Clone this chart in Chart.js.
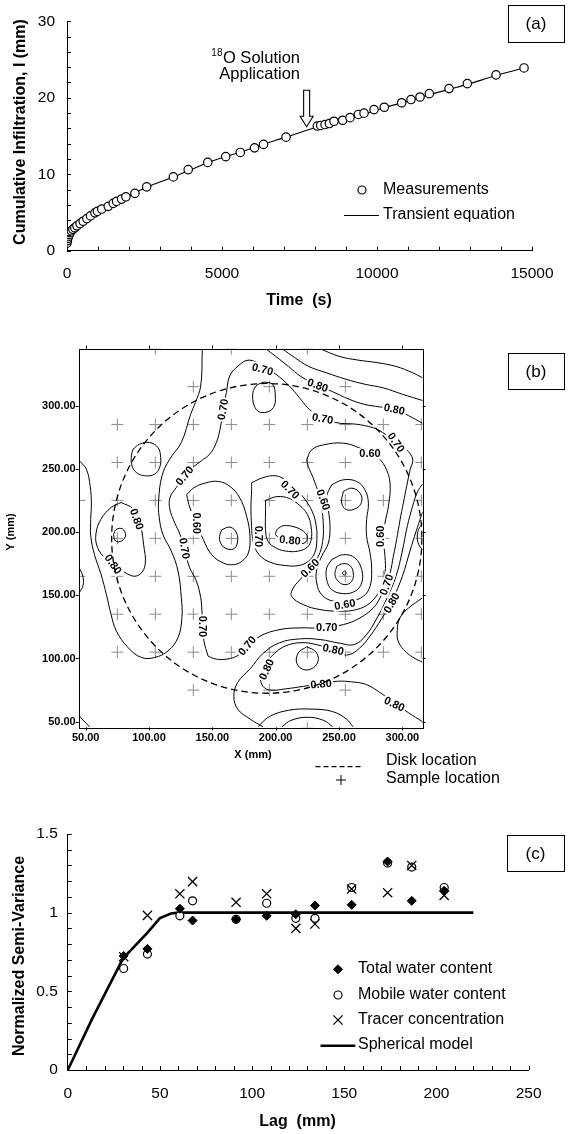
<!DOCTYPE html>
<html><head><meta charset="utf-8">
<script src="https://cdn.jsdelivr.net/npm/chart.js@4.4.1/dist/chart.umd.min.js"></script>
<style>
html,body{margin:0;padding:0;background:#fff;width:574px;height:1134px;overflow:hidden;}
canvas{position:absolute;left:0;}
</style></head><body>
<canvas id="ca" width="574" height="320" style="top:0px"></canvas>
<canvas id="cb" width="574" height="460" style="top:330px"></canvas>
<canvas id="cc" width="574" height="344" style="top:790px"></canvas>
<script>
const FONT = "'Liberation Sans', Arial, Helvetica, sans-serif";
Chart.defaults.font.family = FONT;
Chart.defaults.color = '#000';

// ---------- Panel (a) data ----------
const timeS = [0,10,25,45,70,100,140,190,250,320,420,520,640,760,900,980,1120,1330,1490,1600,1760,1900,2190,2570,3430,3910,4540,5120,5590,6050,6340,7065,8075,8183,8323,8462,8613,8893,9129,9398,9582,9904,10236,10796,11097,11388,11688,12323,12914,13840,14743];
const infilMm = [1.0,1.3,1.6,1.85,2.1,2.35,2.6,2.8,3.0,3.25,3.55,3.85,4.2,4.55,4.95,5.15,5.45,5.8,6.2,6.45,6.75,7.05,7.5,8.35,9.65,10.6,11.55,12.3,12.85,13.45,13.9,14.85,16.3,16.38,16.5,16.63,16.93,17.06,17.4,17.82,17.99,18.45,18.76,19.35,19.77,20.1,20.54,21.2,21.85,23.0,23.9];
const fitTimeS = [0,20,50,120,200,350,500,700,900,1100,1500,2000,2570,3400,4000,4540,5120,5600,6300,7065,7730,8300,8900,9500,10236,11000,11700,12323,12914,13840,14743];
const fitMm = [0.9,1.45,1.85,2.45,2.85,3.35,3.8,4.35,4.85,5.3,6.15,7.15,8.3,9.6,10.6,11.5,12.3,12.9,13.9,14.85,15.75,16.45,17.1,17.75,18.7,19.55,20.4,21.1,21.75,22.9,23.9];
const xTicksA = [0,1000,2000,3000,4000,5000,6000,7000,8000,9000,10000,11000,12000,13000,14000,15000];
const xLabelsA = [0,5000,10000,15000];
const yTicksA = [0,2,4,6,8,10,12,14,16,18,20,22,24,26,28,30];
const yLabelsA = [0,10,20,30];
const arrowTipA = [7730, 16.2];

// ---------- Panel (b) data ----------
const sampleRows = [
  [345,[105,165,225]],
  [315,[135,195,255]],
  [285,[75,105,135,165,195,225,255,285,315]],
  [255,[75,105,135,165,195,225,255,315]],
  [225,[45,75,105,135,165,195,225,255,285,315]],
  [195,[75,105,135,165,195,225,255,285,315]],
  [165,[45,75,105,135,165,195,225,255,285,315]],
  [135,[75,105,135,165,195,225,255,285,315]],
  [105,[75,105,135,165,195,225,255,285,315]],
  [75,[135,195,255]],
  [45,[225]]
];
const diskCenter = [193, 195];
const diskRadius = 122.5;
const xTicksB = [50,100,150,200,250,300];
const yTicksB = [50,100,150,200,250,300];

const cLeftPeak = [[72,198],[74,202],[79,202.5],[81.5,197.5],[78.5,193],[73.5,193],[72,198]];
const cLeft080 = [[78,223.4],[87.6,218.2],[93,206.3],[95.7,190.4],[97,174.6],[93,166.7],[86.3,165.4],[75.5,172],[66.1,178.6],[59.4,187.8],[58.1,198.4],[62.1,210.2],[70.2,219.5],[78,223.4]];
const cLeft075 = [[44.5,257],[50.5,249.7],[53.5,236.6],[54.5,223],[54,210],[54,197],[57,182],[62,167],[66.5,150],[70,135],[74.2,121.8],[83.4,108.7],[94,100.8],[104.5,100.8],[115,106],[122.9,116.6],[126,132.4],[125.5,148.2],[122.9,169.2],[117.6,185],[111,198],[108,212],[107.6,225],[110.3,244.5],[116.3,257.6],[125.5,270.8],[132.9,293.2],[136.6,302.4],[140.8,315.5],[142.1,345]];
const cLeftLoop = [[87.4,265.5],[92.6,269.5],[100.5,270.8],[107.1,266.8],[109.2,258.9],[108.4,251.1],[104.5,245.8],[96.6,244.5],[90,247.1],[86.6,252.4],[86.1,260.3],[87.4,265.5]];
const cLeftEdge = [[44.5,172],[47.5,166],[48,158],[44.5,151]];
const cCornerBL = [[44.5,55],[53,46]];
const cTopLoop = [[191,318.7],[197.6,316.8],[199.7,307.6],[198.2,298.4],[191,294.5],[184.5,297.1],[181.8,307.6],[184.5,315.5],[191,318.7]];
const cMain070 = [[146.6,102],[143.4,114],[141.8,137.6],[140.8,148.2],[137.4,161.3],[132.1,171.8],[128,186],[124.5,198],[120,208],[116.5,218],[116.5,227],[121.6,235.3],[128.2,243.2],[134.7,251.1],[141.3,256.3],[147.9,261.6],[153.2,270.8],[156.6,284],[158.4,297.1],[161.1,310.3],[163.7,323.4],[170.3,331.3],[179,336],[189.7,331.3],[200.3,324.7],[210.8,315.5],[218.7,306.3],[225.3,298.4],[231.8,293.2],[247.6,286.6],[263.4,285.3],[276.6,282.6],[284.5,278.7],[295,270.8],[302.9,265.5],[308.2,257.6],[306.1,249.2],[303.4,236.1],[300.8,222.9],[298.2,209.7],[295.5,194],[292.9,180.8],[290.3,167.6],[286.3,157.1],[282.4,147.9],[277.1,140],[266.6,132.1],[253.4,126.8],[235,124.2],[219.2,124.2],[203.4,122.9],[187.6,117.6],[177.1,108.4],[169.2,101.8],[158.7,99.2],[151,100],[146.6,102]];
const cTop080 = [[192,345],[200,339],[210,331],[220,323],[233,316],[245,311],[258,305],[270,301],[282,299],[294,297],[305,292],[316,286]];
const cTop085 = [[205,345],[215,338],[226,331],[240,326],[255,321],[270,317],[285,314],[300,309],[316,304]];
const cTop090 = [[235,345],[250,339],[265,336],[280,334],[295,331],[308,326],[316,322]];
const cLeftMin1 = [[157.4,201.8],[164,203.9],[169.2,199.2],[169.7,191.3],[166.6,186.6],[160,187.4],[156,192.6],[156,197.9],[157.4,201.8]];
const cLeftMin2 = [[129.7,229.5],[135,234.7],[144.2,238.7],[154.7,240],[163.9,236.1],[171.8,226.8],[177.1,212.4],[179.7,196.6],[178.4,183.4],[173.2,176.8],[166.6,174.2],[158.7,175.5],[149.5,182.1],[142.9,194],[137.6,207.1],[132.4,219],[129.7,229.5]];
const cCenter080 = [[201,202],[206,205],[215,204],[222,200.5],[225,196],[223,191.5],[217,191],[211,192.6],[204,195],[200,198],[201,202]];
const cCenter075 = [[192,225],[201,228],[211,226.5],[219,221],[225,214],[228,204],[228,194],[225,188],[218,185],[210,184.7],[201,187],[194,192.6],[192,202],[192,215],[192,225]];
const cCenter070 = [[181,239],[190,243],[200,244.5],[208,241],[216,234],[223,226],[229,216],[232,205],[232.5,194],[231,184],[226,177],[218,173.5],[208,173.5],[196,176],[187,182],[182.5,191.3],[181,204.5],[180.5,220],[181,233],[181,239]];
const cRightMinA = [[253.4,232.1],[260,234.7],[266.6,230.8],[267.9,224.2],[263.9,219],[256.1,217.6],[252.1,222.9],[253.4,232.1]];
const cRightMinB0 = [[254.2,169.2],[255.8,167.6],[254.2,166],[252.6,167.6],[254.2,169.2]];
const cRightMinB1 = [[248.2,172.9],[253.4,175],[258.7,173.4],[261.3,167.6],[260,161],[254.7,158.4],[249.5,161],[246.8,166.3],[248.2,172.9]];
const cRightMinB2 = [[244.2,178.2],[253.4,182.1],[262.6,179.5],[267.9,170.3],[267.9,159.7],[262.6,153.2],[253.4,151.3],[244.2,154.5],[240.3,162.4],[240.3,171.5],[244.2,178.2]];
const cRight055 = [[244.2,237.4],[253.4,241.3],[263.9,240],[270.5,233.4],[273.2,222.9],[271.8,209.7],[271.8,196.6],[274.5,183.4],[275.8,170.3],[274.5,157.1],[269.2,149.2],[258.7,145.3],[245.5,145.3],[236.3,150.5],[232.4,159.7],[232.4,170.3],[236.3,180.8],[241.6,191.3],[242.9,204.5],[241.6,217.6],[240.3,228.2],[244.2,237.4]];
const cRight060 = [[224.5,257.1],[228.4,265],[237.6,268.9],[253.4,270.3],[266.6,266.3],[279.7,259.7],[286.3,251.8],[290.3,238.7],[289,220.3],[286.3,207.1],[285,194],[286.3,180.8],[286.3,167.6],[282.4,154.5],[274.5,143.9],[263.9,138.7],[250.8,137.4],[235,138.7],[221.8,142.6],[212.6,149.2],[213.9,155.8],[220.5,163.7],[227.1,171.5],[233.7,180.8],[237.1,192.6],[237.6,205.8],[236.3,218.9],[233.7,230.8],[229.7,242.6],[225.8,251.8],[224.5,257.1]];
const cRight085 = [[316,148],[305,140],[298,132],[296,122],[297,113],[303,105],[310,100],[316,97]];
const cRightEdge = [[316,207],[312.8,202],[311.8,196],[313,190],[316,186]];
const cLowPeak = [[224.5,109.2],[231.1,105.8],[233.7,99.2],[229.7,92.6],[221.8,91.3],[216.6,96.6],[217.9,104.5],[224.5,109.2]];
const cLow080 = [[316,50],[305,57],[292,66],[281,74],[271,79.6],[260,81.5],[249,82],[236,80],[222,78],[208,76],[196,75],[190,78],[188,86],[192,95],[199,104],[208,110],[220,112.5],[232,111],[243,107.5],[250,104],[258,103],[266,108],[274,117],[284,132],[292,146],[300,165],[306,185],[311,201],[314,210],[316,216]];
const cLow075 = [[190,46],[180,52],[170,60],[167,70],[170,81],[180,92],[190,104],[203,112.4],[219,115.5],[235,115],[251,112],[262,111],[271,118],[280,132],[288,148],[295,165],[300,185],[304,205],[308,220],[312,232],[316,238]];
const cBotArc1 = [[205,46],[212,51],[225,53.5],[238,51],[245,46]];
const cBotArc2 = [[186,46],[195,54],[210,59],[228,60],[245,58],[256,52],[261,46]];

const contourLines = [cLeftPeak,cLeft080,cLeft075,cLeftLoop,cLeftEdge,cCornerBL,cTopLoop,cMain070,cTop080,cTop085,cTop090,
  cLeftMin1,cLeftMin2,cCenter080,cCenter075,cCenter070,cRightMinA,cRightMinB0,cRightMinB1,cRightMinB2,cRight055,cRight060,
  cRight085,cRightEdge,cLowPeak,cLow080,cLow075,cBotArc1,cBotArc2];

// [X, Y, angle(deg), text]
const contourLabels = [
  [90.3,210.2,70,'0.80'],[71.6,174.5,55,'0.80'],
  [158.4,297,-80,'0.70'],[128.2,244.5,-50,'0.70'],[128,187,80,'0.70'],[142.4,125.3,90,'0.70'],
  [177.5,110,-50,'0.70'],[240.3,124.2,0,'0.70'],[287.6,158.4,-70,'0.70'],[237.1,289.7,10,'0.70'],
  [295,270.8,55,'0.70'],[189.7,328.7,15,'0.70'],[233.2,316,20,'0.80'],[293.7,297.1,12,'0.80'],
  [137.5,207,90,'0.60'],[186.3,196.6,90,'0.70'],[211.3,233.4,45,'0.70'],[211.3,193.5,5,'0.80'],
  [237.6,225.5,70,'0.60'],[274.5,261.9,0,'0.60'],[282.4,196.6,-90,'0.60'],[227.1,171.5,-45,'0.60'],
  [254.7,142.6,-10,'0.60'],[291.6,144,-60,'0.80'],
  [245.5,107.1,12,'0.80'],[192.9,91.3,-65,'0.80'],[235.8,79.7,-5,'0.80'],[293.7,63.9,25,'0.80']
];

// ---------- Panel (c) data ----------
const lagMm = [30.3,43.2,60.8,67.7,91.3,107.9,123.7,134.1,154,173.5,186.6,204.2];
const totalWater = [0.725,0.77,1.025,0.95,0.958,0.98,0.99,1.045,1.05,1.325,1.075,1.14];
const mobileWater = [0.645,0.737,0.98,1.075,0.958,1.06,0.964,0.964,1.16,1.315,1.29,1.16];
const tracerConc = [0.72,0.983,1.12,1.197,1.066,1.12,0.90,0.928,1.15,1.127,1.30,1.11];
const modelLag = [0,13,30,43,50,56,60,220];
const modelVal = [0,0.32,0.71,0.87,0.965,0.995,1.0,1.0];
const xTicksC = [0,10,20,30,40,50,60,70,80,90,100,110,120,130,140,150,160,170,180,190,200,210,220,230,240,250];
const xLabelsC = [0,50,100,150,200,250];
const yTicksC = [0,0.1,0.2,0.3,0.4,0.5,0.6,0.7,0.8,0.9,1.0,1.1,1.2,1.3,1.4,1.5];
const yLabelsC = [0,0.5,1,1.5];

// ---------- helpers ----------
function pts(xs, ys){ return xs.map((x,i)=>({x:x, y:ys[i]})); }
function pairs(arr){ return arr.map(p=>({x:p[0], y:p[1]})); }
function hasVal(list, v){ return list.some(l=>Math.abs(l-v)<1e-9); }
function drawText(ctx, s, x, y, o){
  o = o||{};
  ctx.save();
  ctx.font = (o.bold?'bold ':'') + (o.size||16) + 'px ' + FONT;
  ctx.fillStyle = '#000';
  ctx.textAlign = o.align||'left';
  ctx.textBaseline = o.base||'middle';
  ctx.translate(x,y);
  if (o.rot) ctx.rotate(o.rot*Math.PI/180);
  ctx.fillText(s,0,0);
  ctx.restore();
}
function panelBox(ctx, label, x, y, w, h){
  ctx.save(); ctx.strokeStyle='#000'; ctx.lineWidth=1; ctx.strokeRect(x+0.5,y+0.5,w,h); ctx.restore();
  drawText(ctx, label, x+w/2, y+h/2+1, {align:'center', size:17});
}
function innerTicks(chart, lenX, lenY){
  const ctx=chart.ctx, xs=chart.scales.x, ys=chart.scales.y, a=chart.chartArea;
  ctx.save(); ctx.strokeStyle='#000'; ctx.lineWidth=1; ctx.beginPath();
  xs.ticks.forEach(t=>{ const p=Math.round(xs.getPixelForValue(t.value))+0.5; ctx.moveTo(p,a.bottom); ctx.lineTo(p,a.bottom+lenX); });
  ys.ticks.forEach(t=>{ const p=Math.round(ys.getPixelForValue(t.value))+0.5; ctx.moveTo(a.left,p); ctx.lineTo(a.left+lenY,p); });
  ctx.stroke(); ctx.restore();
}
const baseOpts = {responsive:false, animation:false, events:[], devicePixelRatio:1,
  plugins:{legend:{display:false}, tooltip:{enabled:false}}};

// ---------- Chart (a) ----------
new Chart(document.getElementById('ca'), {
  type:'scatter',
  data:{datasets:[
    {label:'Measurements', data:pts(timeS, infilMm), showLine:false, pointStyle:'circle', pointRadius:4.2, pointBorderWidth:1.2, borderColor:'#000', backgroundColor:'#fff'},
    {label:'Transient equation', data:pts(fitTimeS, fitMm), showLine:true, borderColor:'#000', borderWidth:1.1, pointRadius:0, tension:0.35}
  ]},
  options:Object.assign({}, baseOpts, {
    layout:{padding:{left:0,right:42,top:15,bottom:0}},
    scales:{
      x:{type:'linear', min:0, max:15000,
        afterBuildTicks:s=>{ s.ticks = xTicksA.map(v=>({value:v})); },
        afterFit:s=>{ s.height = 69.3; },
        grid:{display:false, drawTicks:false}, border:{display:true, color:'#000', width:1},
        ticks:{autoSkip:false, maxRotation:0, minRotation:0, padding:14, font:{size:15.5}, color:'#000',
          callback:v=>hasVal(xLabelsA,v)?String(v):''}},
      y:{type:'linear', min:0, max:30,
        afterBuildTicks:s=>{ s.ticks = yTicksA.map(v=>({value:v})); },
        afterFit:s=>{ s.width = 67; },
        grid:{display:false, drawTicks:false}, border:{display:true, color:'#000', width:1},
        ticks:{autoSkip:false, padding:12, font:{size:15.5}, color:'#000',
          callback:v=>hasVal(yLabelsA,v)?String(v):''}}
    }
  }),
  plugins:[{id:'decorA', afterDraw(chart){
    const ctx=chart.ctx, xs=chart.scales.x, ys=chart.scales.y;
    innerTicks(chart, -4, 4);
    drawText(ctx,'Time  (s)', 299, 301, {bold:true, align:'center', size:16});
    drawText(ctx,'Cumulative Infiltration, I (mm)', 21, 132, {bold:true, align:'center', size:16, rot:-90});
    const tx=xs.getPixelForValue(arrowTipA[0]), ty=ys.getPixelForValue(arrowTipA[1]);
    ctx.save(); ctx.strokeStyle='#000'; ctx.fillStyle='#fff'; ctx.lineWidth=1.1; ctx.beginPath();
    ctx.moveTo(tx,ty); ctx.lineTo(tx-6.5,ty-10.5); ctx.lineTo(tx-3,ty-10.5); ctx.lineTo(tx-3,ty-36.5);
    ctx.lineTo(tx+3,ty-36.5); ctx.lineTo(tx+3,ty-10.5); ctx.lineTo(tx+6.5,ty-10.5); ctx.closePath();
    ctx.fill(); ctx.stroke(); ctx.restore();
    ctx.save(); ctx.font='16.5px '+FONT; const w1=ctx.measureText('O Solution').width; ctx.restore();
    drawText(ctx,'O Solution', 300, 62.7, {align:'right', base:'alphabetic', size:16.5});
    drawText(ctx,'18', 300-w1-0.5, 56, {align:'right', base:'alphabetic', size:10});
    drawText(ctx,'Application', 300, 79, {align:'right', base:'alphabetic', size:16.5});
    ctx.save(); ctx.strokeStyle='#000'; ctx.fillStyle='#fff'; ctx.lineWidth=1.2;
    Chart.helpers.drawPoint(ctx, {pointStyle:'circle', radius:4, borderWidth:1.2}, 362, 190); ctx.restore();
    drawText(ctx,'Measurements', 383, 190, {size:16});
    ctx.save(); ctx.strokeStyle='#000'; ctx.lineWidth=1.1; ctx.beginPath(); ctx.moveTo(344,215.5); ctx.lineTo(379,215.5); ctx.stroke(); ctx.restore();
    drawText(ctx,'Transient equation', 383, 215, {size:16});
    panelBox(ctx,'(a)', 508, 5, 56, 37);
  }}]
});

// ---------- Chart (b) ----------
const sampleData = [];
sampleRows.forEach(r=>r[1].forEach(x=>sampleData.push({x:x, y:r[0]})));
const bDatasets = contourLines.map(c=>({data:pairs(c), showLine:true, pointRadius:0, borderColor:'#000', borderWidth:1, tension:0.4, fill:false}));
bDatasets.push({data:sampleData, showLine:false, pointStyle:'cross', pointRadius:6, pointBorderWidth:1, borderColor:'#8c8c8c', backgroundColor:'#8c8c8c'});
new Chart(document.getElementById('cb'), {
  type:'scatter',
  data:{datasets:bDatasets},
  options:Object.assign({}, baseOpts, {
    layout:{padding:{left:0,right:151.4,top:18.7,bottom:0}},
    scales:{
      x:{type:'linear', min:44.5, max:316,
        afterBuildTicks:s=>{ s.ticks = xTicksB.map(v=>({value:v})); },
        afterFit:s=>{ s.height = 62.6; },
        grid:{display:false, drawTicks:false}, border:{display:false},
        ticks:{autoSkip:false, maxRotation:0, minRotation:0, padding:4, font:{size:11, weight:'bold'}, color:'#000',
          callback:v=>v.toFixed(2)}},
      y:{type:'linear', min:45.5, max:345,
        afterBuildTicks:s=>{ s.ticks = yTicksB.map(v=>({value:v})); },
        afterFit:s=>{ s.width = 78.7; },
        grid:{display:false, drawTicks:false}, border:{display:false},
        ticks:{autoSkip:false, padding:3, font:{size:11, weight:'bold'}, color:'#000',
          callback:v=>v.toFixed(2)}}
    }
  }),
  plugins:[{id:'decorB', afterDatasetsDraw(chart){
    const ctx=chart.ctx, xs=chart.scales.x, ys=chart.scales.y, a=chart.chartArea;
    ctx.save(); ctx.font='bold 11px '+FONT; ctx.textAlign='center'; ctx.textBaseline='middle';
    contourLabels.forEach(l=>{
      const px=xs.getPixelForValue(l[0]), py=ys.getPixelForValue(l[1]);
      const w=ctx.measureText(l[3]).width;
      ctx.save(); ctx.translate(px,py); ctx.rotate(l[2]*Math.PI/180);
      ctx.fillStyle='#fff'; ctx.fillRect(-w/2-1.5,-5.5,w+3,11);
      ctx.fillStyle='#000'; ctx.fillText(l[3],0,0.5); ctx.restore();
    });
    ctx.restore();
    const cx=xs.getPixelForValue(diskCenter[0]), cy=ys.getPixelForValue(diskCenter[1]);
    const rx=xs.getPixelForValue(diskCenter[0]+diskRadius)-cx, ry=cy-ys.getPixelForValue(diskCenter[1]+diskRadius);
    ctx.save(); ctx.beginPath(); ctx.rect(a.left,a.top,a.right-a.left,a.bottom-a.top); ctx.clip();
    ctx.setLineDash([6.5,4]); ctx.strokeStyle='#000'; ctx.lineWidth=1.3;
    ctx.beginPath(); ctx.ellipse(cx,cy,rx,ry,0,0,Math.PI*2); ctx.stroke(); ctx.restore();
  }, afterDraw(chart){
    const ctx=chart.ctx, xs=chart.scales.x, ys=chart.scales.y, a=chart.chartArea;
    ctx.save(); ctx.strokeStyle='#000'; ctx.lineWidth=1;
    ctx.strokeRect(Math.round(a.left)+0.5, Math.round(a.top)+0.5, Math.round(a.right-a.left), Math.round(a.bottom-a.top));
    ctx.beginPath();
    xs.ticks.forEach(t=>{ const p=Math.round(xs.getPixelForValue(t.value))+0.5; ctx.moveTo(p,a.bottom); ctx.lineTo(p,a.bottom+3); ctx.moveTo(p,a.top); ctx.lineTo(p,a.top-3); });
    ys.ticks.forEach(t=>{ const p=Math.round(ys.getPixelForValue(t.value))+0.5; ctx.moveTo(a.left,p); ctx.lineTo(a.left-3,p); ctx.moveTo(a.right,p); ctx.lineTo(a.right+3,p); });
    ctx.stroke(); ctx.restore();
    drawText(ctx,'X (mm)', 253, 425, {bold:true, align:'center', size:11});
    drawText(ctx,'Y (mm)', 11, 202, {bold:true, align:'center', size:11, rot:-90});
    ctx.save(); ctx.strokeStyle='#000'; ctx.lineWidth=1.2; ctx.setLineDash([5,3]);
    ctx.beginPath(); ctx.moveTo(315.5,436.7); ctx.lineTo(362,436.7); ctx.stroke(); ctx.restore();
    drawText(ctx,'Disk location', 386, 431, {size:16});
    ctx.save(); ctx.strokeStyle='#000'; ctx.lineWidth=1;
    Chart.helpers.drawPoint(ctx, {pointStyle:'cross', radius:5, borderWidth:1}, 341, 450); ctx.restore();
    drawText(ctx,'Sample location', 386, 449, {size:16});
    panelBox(ctx,'(b)', 508, 23, 56, 36);
  }}]
});

// ---------- Chart (c) ----------
new Chart(document.getElementById('cc'), {
  type:'scatter',
  data:{datasets:[
    {label:'Tracer concentration', data:pts(lagMm, tracerConc), pointStyle:'crossRot', pointRadius:6.5, pointBorderWidth:1.3, borderColor:'#000', backgroundColor:'#000'},
    {label:'Total water content', data:pts(lagMm, totalWater), pointStyle:'rectRot', pointRadius:4.5, pointBorderWidth:1, borderColor:'#000', backgroundColor:'#000'},
    {label:'Mobile water content', data:pts(lagMm, mobileWater), pointStyle:'circle', pointRadius:4, pointBorderWidth:1.2, borderColor:'#000', backgroundColor:'#fff'},
    {label:'Spherical model', data:pts(modelLag, modelVal), showLine:true, pointRadius:0, borderColor:'#000', borderWidth:2.6, tension:0}
  ]},
  options:Object.assign({}, baseOpts, {
    layout:{padding:{left:0,right:45.4,top:44,bottom:0}},
    scales:{
      x:{type:'linear', min:0, max:250,
        afterBuildTicks:s=>{ s.ticks = xTicksC.map(v=>({value:v})); },
        afterFit:s=>{ s.height = 64; },
        grid:{display:false, drawTicks:false}, border:{display:true, color:'#000', width:1},
        ticks:{autoSkip:false, maxRotation:0, minRotation:0, padding:14, font:{size:15.5}, color:'#000',
          callback:v=>hasVal(xLabelsC,v)?String(v):''}},
      y:{type:'linear', min:0, max:1.5,
        afterBuildTicks:s=>{ s.ticks = yTicksC.map(v=>({value:v})); },
        afterFit:s=>{ s.width = 67.8; },
        grid:{display:false, drawTicks:false}, border:{display:true, color:'#000', width:1},
        ticks:{autoSkip:false, padding:10, font:{size:15.5}, color:'#000',
          callback:v=>hasVal(yLabelsC,v)?String(+v.toFixed(1)):''}}
    }
  }),
  plugins:[{id:'decorC', afterDraw(chart){
    const ctx=chart.ctx;
    innerTicks(chart, -4, 4);
    drawText(ctx,'Lag  (mm)', 297.5, 331.7, {bold:true, align:'center', size:16});
    drawText(ctx,'Normalized Semi-Variance', 19.5, 166, {bold:true, align:'center', size:16, rot:-90});
    ctx.save(); ctx.strokeStyle='#000'; ctx.fillStyle='#000';
    Chart.helpers.drawPoint(ctx, {pointStyle:'rectRot', radius:4.5, borderWidth:1}, 338, 179.3);
    ctx.fillStyle='#fff'; ctx.lineWidth=1.2;
    Chart.helpers.drawPoint(ctx, {pointStyle:'circle', radius:4, borderWidth:1.2}, 338, 205);
    ctx.lineWidth=1.3;
    Chart.helpers.drawPoint(ctx, {pointStyle:'crossRot', radius:6.5, borderWidth:1.3}, 338, 230);
    ctx.lineWidth=2.6; ctx.beginPath(); ctx.moveTo(320.5,255.7); ctx.lineTo(355.3,255.7); ctx.stroke();
    ctx.restore();
    drawText(ctx,'Total water content', 358, 179, {size:16});
    drawText(ctx,'Mobile water content', 358, 205, {size:16});
    drawText(ctx,'Tracer concentration', 358, 230, {size:16});
    drawText(ctx,'Spherical model', 358, 255, {size:16});
    panelBox(ctx,'(c)', 507, 45, 57, 36);
  }}]
});
</script></body></html>
